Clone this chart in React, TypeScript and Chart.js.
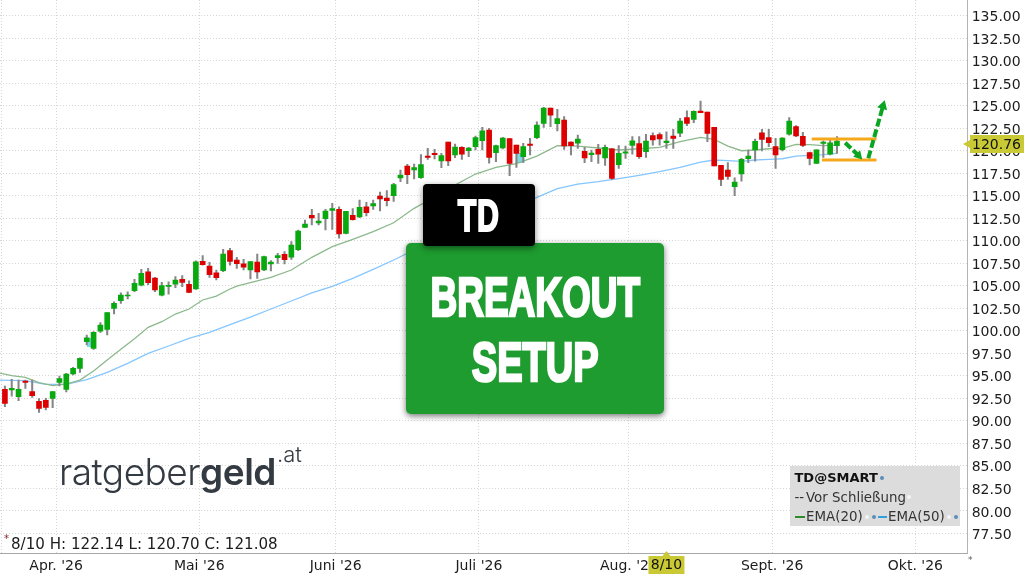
import React, { useEffect, useRef } from 'react';
import { Chart, registerables } from 'chart.js';

Chart.register(...registerables);

// candles
const opens = [93.49, 93.42, 92.68, 94.42, 93.24, 92.16, 92.27, 92.50, 94.27, 93.49, 95.20, 95.83, 98.79, 98.05, 99.97, 100.16, 102.49, 103.34, 103.86, 104.45, 105.08, 106.56, 105.86, 103.97, 104.93, 105.19, 105.71, 105.16, 104.64, 107.71, 107.19, 106.45, 106.67, 108.90, 107.86, 107.45, 106.75, 107.64, 106.75, 107.42, 108.12, 108.49, 108.19, 109.01, 111.49, 112.82, 111.97, 112.45, 113.38, 113.49, 110.82, 112.82, 112.64, 113.78, 113.86, 114.97, 114.75, 115.01, 116.97, 118.30, 117.86, 117.01, 119.41, 119.71, 118.86, 120.97, 119.52, 120.37, 120.00, 120.45, 121.11, 122.30, 119.78, 120.30, 121.34, 120.63, 119.34, 120.74, 121.45, 123.04, 124.74, 123.00, 123.41, 120.97, 120.85, 119.93, 119.56, 120.15, 119.19, 120.22, 118.45, 119.74, 120.59, 120.78, 119.89, 121.67, 121.78, 120.89, 121.63, 121.96, 123.67, 123.48, 124.41, 124.30, 122.59, 118.37, 117.85, 116.00, 117.41, 119.11, 120.08, 122.00, 121.45, 120.45, 120.11, 121.85, 122.67, 121.59, 119.78, 118.60, 120.82, 119.63, 120.56];
const highs = [93.87, 94.61, 94.53, 94.53, 94.53, 92.46, 92.50, 93.24, 94.98, 95.27, 95.94, 97.01, 99.53, 99.90, 100.90, 102.01, 103.23, 104.23, 104.34, 105.71, 106.82, 106.93, 105.93, 105.38, 105.45, 106.01, 106.12, 105.56, 107.78, 108.34, 107.60, 106.75, 109.04, 109.15, 108.15, 107.93, 107.68, 108.53, 108.31, 107.79, 108.60, 108.79, 109.90, 111.19, 112.30, 113.49, 113.04, 113.49, 114.15, 113.78, 113.27, 113.56, 114.52, 114.27, 114.52, 115.41, 115.56, 116.38, 117.86, 118.49, 118.52, 119.56, 120.26, 120.15, 119.71, 120.97, 120.74, 120.45, 120.37, 121.63, 122.59, 122.48, 120.63, 121.48, 121.34, 120.63, 120.82, 121.37, 123.22, 124.81, 124.74, 124.59, 123.78, 121.00, 121.74, 120.37, 120.08, 120.71, 120.63, 120.26, 120.56, 120.52, 121.56, 121.56, 121.82, 122.00, 122.00, 122.11, 122.37, 123.59, 124.44, 124.44, 125.52, 124.30, 122.59, 118.37, 118.67, 117.00, 119.15, 120.08, 121.30, 122.37, 122.37, 121.37, 121.45, 123.67, 122.78, 122.04, 119.85, 120.11, 121.11, 121.19, 121.56];
const lows = [91.57, 92.75, 92.24, 93.61, 92.61, 90.94, 91.20, 91.46, 93.87, 93.20, 95.09, 95.38, 98.42, 97.94, 99.83, 99.53, 101.86, 103.05, 103.53, 104.34, 104.97, 105.12, 104.34, 103.86, 104.08, 104.79, 104.90, 104.23, 104.60, 107.30, 105.93, 105.64, 106.56, 107.30, 106.93, 106.75, 105.75, 105.83, 106.68, 106.64, 107.49, 107.42, 107.93, 108.90, 111.49, 111.75, 111.75, 111.19, 111.27, 110.30, 110.75, 112.30, 112.56, 112.75, 113.49, 113.30, 113.86, 114.38, 116.56, 116.34, 116.86, 116.93, 119.04, 119.08, 118.12, 118.34, 119.23, 119.04, 119.34, 120.08, 120.08, 118.63, 118.78, 120.19, 117.23, 118.15, 118.71, 119.52, 121.33, 122.59, 122.67, 122.19, 120.15, 119.52, 120.26, 118.67, 118.78, 118.60, 118.37, 116.82, 118.04, 119.15, 119.63, 119.15, 119.26, 120.63, 120.63, 120.26, 120.26, 121.56, 122.78, 123.11, 124.22, 121.00, 118.30, 116.11, 116.82, 115.00, 116.63, 118.67, 118.85, 119.97, 120.45, 118.04, 119.97, 121.74, 121.56, 120.45, 118.41, 118.60, 119.26, 119.52, 119.70];
const closes = [91.94, 93.61, 93.49, 94.27, 92.79, 91.38, 91.50, 93.24, 94.68, 95.20, 95.83, 96.94, 99.23, 99.83, 100.64, 102.01, 103.05, 103.97, 103.97, 105.27, 106.38, 105.34, 104.53, 105.01, 105.05, 105.64, 105.38, 104.27, 107.67, 107.34, 106.23, 105.90, 108.53, 107.71, 107.45, 107.08, 107.68, 106.53, 108.23, 107.64, 108.34, 107.90, 109.53, 111.08, 111.86, 112.53, 112.19, 113.30, 113.56, 110.75, 113.27, 112.34, 113.71, 113.12, 114.12, 114.64, 114.45, 116.23, 117.30, 117.34, 118.12, 118.45, 119.26, 119.56, 119.45, 118.86, 120.41, 119.63, 120.30, 121.45, 122.22, 119.26, 120.56, 121.41, 118.60, 119.71, 120.45, 120.59, 122.85, 124.74, 123.96, 123.56, 120.52, 120.56, 121.30, 119.19, 119.74, 119.63, 120.37, 116.93, 119.71, 119.89, 121.11, 119.34, 121.08, 121.19, 121.30, 121.08, 121.37, 123.30, 123.04, 124.37, 124.22, 121.93, 118.30, 116.82, 117.15, 116.52, 119.04, 119.41, 121.04, 121.26, 120.89, 119.52, 121.41, 123.30, 121.63, 120.59, 119.15, 120.11, 120.96, 120.89, 121.08];

const ema20Bars = [-1, 1, 3, 5, 7, 9, 11, 13, 15, 17, 19, 21, 23, 25, 27, 29, 31, 33, 34, 36, 39, 42, 45, 48, 51, 54, 57, 60, 63, 66, 69, 72, 75, 78, 81, 84, 87, 90, 93, 96, 99, 102, 104, 106, 108, 110, 112, 114, 116, 118, 120, 122];
const ema20 = [95.35, 95.01, 94.83, 94.24, 93.90, 94.09, 94.53, 95.53, 96.75, 97.94, 99.12, 100.38, 101.01, 101.86, 102.42, 103.42, 103.86, 104.64, 104.97, 105.34, 105.94, 106.75, 108.16, 109.34, 110.16, 111.01, 112.00, 113.60, 114.86, 116.19, 117.41, 118.15, 118.56, 119.41, 120.56, 120.52, 120.30, 120.08, 120.22, 120.37, 121.00, 121.48, 121.26, 120.52, 120.00, 120.08, 120.22, 120.26, 120.71, 120.67, 120.56, 120.63];

const ema50Bars = [-1, 3, 6, 9, 12, 15, 18, 21, 24, 27, 30, 33, 34, 36, 39, 42, 45, 48, 51, 54, 57, 60, 63, 66, 69, 72, 75, 78, 81, 84, 87, 90, 93, 96, 99, 102, 104, 106, 108, 110, 112, 114, 116, 118, 120, 122];
const ema50 = [94.53, 94.46, 94.05, 94.05, 94.57, 95.38, 96.38, 97.49, 98.31, 99.16, 99.83, 100.68, 100.97, 101.53, 102.42, 103.31, 104.20, 104.94, 105.83, 106.82, 107.86, 108.97, 110.08, 111.19, 112.19, 113.19, 113.97, 114.82, 115.78, 116.30, 116.56, 116.89, 117.26, 117.67, 118.15, 118.74, 118.97, 118.89, 118.82, 118.97, 119.04, 119.11, 119.41, 119.48, 119.56, 119.70];

const yTicks = [77.5, 80, 82.5, 85, 87.5, 90, 92.5, 95, 97.5, 100, 102.5, 105, 107.5, 110, 112.5, 115, 117.5, 120, 122.5, 125, 127.5, 130, 132.5, 135];
const monthLabels = ["Apr. '26", "Mai '26", "Juni '26", "Juli '26", "Aug. '26", "Sept. '26", "Okt. '26"];
const monthBars = [7.5, 28.5, 48.5, 69.5, 91.5, 112.5, 133.5];

const resistance = 121.3;
const support = 118.97;
const resistanceBars = [118.3, 127.8];
const supportBars = [119.8, 127.8];
const arrowDownBars = [123.2, 125.16];
const arrowDownVals = [120.89, 119.47];
const arrowUpBars = [126.6, 128.75];
const arrowUpVals = [119.16, 124.97];

const lastPrice = 120.76;
const crosshairBar = 97;
const crosshairLabel = '8/10';

const gapBars = [12.6, 75.6];
const gapTops = [99.16, 119.71];
const gapBottoms = [98.23, 118.67];

const GREEN = '#08a90f';
const RED = '#dc0000';
const TAG = '#c9c935';
const FONT = '"DejaVu Sans", sans-serif';

// price tag on the right axis and date tag on the bottom axis
const tagsPlugin = {
  id: 'tags',
  afterDraw(chart: any) {
    const { ctx, scales } = chart;
    const y = scales.y.getPixelForValue(lastPrice);
    const x = scales.x.getPixelForValue(crosshairBar);
    ctx.save();
    ctx.fillStyle = TAG;
    ctx.beginPath();
    ctx.moveTo(963, y);
    ctx.lineTo(970, y - 4);
    ctx.lineTo(970, y - 9);
    ctx.lineTo(1024, y - 9);
    ctx.lineTo(1024, y + 9);
    ctx.lineTo(970, y + 9);
    ctx.lineTo(970, y + 4);
    ctx.closePath();
    ctx.fill();
    ctx.beginPath();
    ctx.moveTo(x, 551);
    ctx.lineTo(x + 4, 556);
    ctx.lineTo(x + 18, 556);
    ctx.lineTo(x + 18, 574);
    ctx.lineTo(x - 18, 574);
    ctx.lineTo(x - 18, 556);
    ctx.lineTo(x - 4, 556);
    ctx.closePath();
    ctx.fill();
    ctx.fillStyle = '#111';
    ctx.font = '14px ' + FONT;
    ctx.textBaseline = 'middle';
    ctx.textAlign = 'left';
    ctx.fillText(lastPrice.toFixed(2), 972, y + 1);
    ctx.textAlign = 'center';
    ctx.fillText(crosshairLabel, x, 565);
    ctx.restore();
  },
};

// chart area has to reach the canvas edges, no room for half tick labels
const noPadding = (scale: any) => {
  scale.paddingLeft = 0;
  scale.paddingRight = 0;
  scale.paddingTop = 0;
  scale.paddingBottom = 0;
};

const CandleChart: React.FC = () => {
  const canvasRef = useRef<HTMLCanvasElement>(null);

  useEffect(() => {
    if (!canvasRef.current) return;
    const arrow = {
      type: 'line',
      borderColor: '#0aa522',
      borderWidth: 4,
      borderDash: [8, 3],
      pointBackgroundColor: '#0aa522',
      pointBorderWidth: 0,
      pointStyle: 'triangle',
      tension: 0,
      order: 0,
    };
    const chart = new Chart(canvasRef.current, {
      type: 'bar',
      data: {
        datasets: [
          {
            type: 'bar',
            data: gapBars.map((b, i) => ({ x: b, y: [gapBottoms[i], gapTops[i]] })),
            backgroundColor: '#7fd8e8',
            barThickness: 7,
            grouped: false,
            order: 6,
          },
          {
            type: 'line',
            data: ema50Bars.map((b, i) => ({ x: b, y: ema50[i] })),
            borderColor: '#85c6ff',
            borderWidth: 1.3,
            pointRadius: 0,
            order: 5,
          },
          {
            type: 'line',
            data: ema20Bars.map((b, i) => ({ x: b, y: ema20[i] })),
            borderColor: '#8cb98c',
            borderWidth: 1.3,
            pointRadius: 0,
            order: 4,
          },
          {
            type: 'bar',
            data: highs.map((h, i) => ({ x: i, y: [lows[i], h] })),
            backgroundColor: '#868686',
            barThickness: 1.4,
            grouped: false,
            order: 3,
          },
          {
            type: 'bar',
            data: closes.map((c, i) => ({ x: i, y: [opens[i], c] })),
            backgroundColor: closes.map((c, i) => (c >= opens[i] ? GREEN : RED)),
            barThickness: 5,
            grouped: false,
            order: 2,
          },
          {
            type: 'line',
            data: resistanceBars.map((b) => ({ x: b, y: resistance })),
            borderColor: '#f6a81c',
            borderWidth: 3,
            pointRadius: 0,
            order: 1,
          },
          {
            type: 'line',
            data: supportBars.map((b) => ({ x: b, y: support })),
            borderColor: '#f6a81c',
            borderWidth: 3,
            pointRadius: 0,
            order: 1,
          },
          {
            ...arrow,
            data: arrowDownBars.map((b, i) => ({ x: b, y: arrowDownVals[i] })),
            pointRadius: [0, 5.5],
            pointRotation: [0, 137],
          },
          {
            ...arrow,
            data: arrowUpBars.map((b, i) => ({ x: b, y: arrowUpVals[i] })),
            pointRadius: [0, 6],
            pointRotation: [0, 17],
          },
        ] as any,
      },
      options: {
        responsive: false,
        animation: false,
        devicePixelRatio: 1,
        layout: { padding: 0, autoPadding: false },
        plugins: { legend: { display: false }, tooltip: { enabled: false } },
        scales: {
          x: {
            type: 'linear',
            offset: false,
            min: -0.72,
            max: 141.17,
            grid: { offset: false, color: '#d6d6d6', tickLength: 0 },
            border: { color: '#a8a8a8', dash: [1, 2] },
            afterBuildTicks: (scale: any) => {
              scale.ticks = [-0.5, ...monthBars].map((value) => ({ value }));
            },
            afterFit: (scale: any) => {
              scale.height = 22;
              noPadding(scale);
            },
            ticks: {
              autoSkip: false,
              maxRotation: 0,
              padding: 5,
              color: '#1c1c1c',
              font: { family: FONT, size: 14 },
              callback: (value: any) => {
                const at = monthBars.indexOf(Number(value));
                return at >= 0 ? monthLabels[at] : '';
              },
            },
          },
          y: {
            type: 'linear',
            position: 'right',
            min: 75.32,
            max: 136.74,
            grid: { color: '#d6d6d6', tickLength: 0 },
            border: { color: '#b4b4b4', dash: [1, 2] },
            afterBuildTicks: (scale: any) => {
              scale.ticks = yTicks.map((value) => ({ value }));
            },
            afterFit: (scale: any) => {
              scale.width = 1024 - 967.7;
              noPadding(scale);
            },
            ticks: {
              padding: 4,
              labelOffset: 2,
              color: '#1c1c1c',
              font: { family: FONT, size: 14 },
              callback: (value: any) => Number(value).toFixed(2),
            },
          },
        },
      } as any,
      plugins: [tagsPlugin],
    });
    return () => {
      chart.destroy();
    };
  }, []);

  return <canvas ref={canvasRef} width={1024} height={575} style={{ display: 'block' }} />;
};

const at = (left: number, top: number): React.CSSProperties => ({
  position: 'absolute',
  left,
  top,
  whiteSpace: 'nowrap',
});

const heavy: React.CSSProperties = {
  position: 'absolute',
  left: -100,
  right: -100,
  textAlign: 'center',
  whiteSpace: 'nowrap',
  color: '#fff',
  fontFamily: '"Liberation Sans", sans-serif',
  fontWeight: 700,
  WebkitTextStroke: '2.6px #fff',
  lineHeight: 1,
};

const dot = (left: number, top: number, color: string): React.CSSProperties => ({
  position: 'absolute',
  left,
  top,
  width: 4,
  height: 4,
  borderRadius: 2,
  background: color,
});

const dash = (left: number, top: number, width: number, color: string): React.CSSProperties => ({
  position: 'absolute',
  left,
  top,
  width,
  height: 1.5,
  background: color,
});

export default function App() {
  return (
    <div style={{ position: 'absolute', left: 0, top: 0, width: 1024, height: 575, overflow: 'hidden', background: '#fff', fontFamily: FONT }}>
      <CandleChart />

      {/* boxes */}
      <div style={{ position: 'absolute', left: 405.5, top: 243, width: 258.5, height: 171, background: '#1e9c2f', borderRadius: 5, boxShadow: '0 2px 6px rgba(0,0,0,.55)' }}>
        <div style={{ ...heavy, top: 25.5, fontSize: 56, transform: 'scaleX(0.66)' }}>BREAKOUT</div>
        <div style={{ ...heavy, top: 91, fontSize: 56, transform: 'scaleX(0.68)' }}>SETUP</div>
      </div>
      <div style={{ position: 'absolute', left: 423, top: 184, width: 111.5, height: 62, background: '#000', borderRadius: 4, boxShadow: '0 2px 6px rgba(0,0,0,.5)' }}>
        <div style={{ ...heavy, top: 10, fontSize: 44, transform: 'scaleX(0.69)', WebkitTextStroke: '2px #fff', letterSpacing: 1 }}>TD</div>
      </div>

      {/* logo */}
      <div style={{ ...at(59, 448), fontFamily: 'Inter, sans-serif', fontSize: 37, color: '#343a42', lineHeight: '48px', letterSpacing: -0.5 }}>
        <span style={{ fontWeight: 300 }}>ratgeber</span>
        <span style={{ fontWeight: 600 }}>geld</span>
      </div>
      <div style={{ ...at(277, 441), fontFamily: 'Inter, sans-serif', fontSize: 22, fontWeight: 300, color: '#343a42', lineHeight: '26px' }}>.at</div>

      {/* info line */}
      <div style={{ ...at(9, 535), background: '#fff', fontSize: 15.1, lineHeight: '18px', color: '#1c1c1c', padding: '0 2px', height: 17 }}>8/10 H: 122.14 L: 120.70 C: 121.08</div>
      <div style={{ ...at(4, 534), fontSize: 10, lineHeight: '10px', color: '#8a2020' }}>*</div>
      <div style={{ ...at(968, 555), fontSize: 9, lineHeight: '10px', color: '#555' }}>*</div>

      {/* legend */}
      <div style={{ position: 'absolute', left: 789.5, top: 466, width: 170.5, height: 60, background: '#dcdcdc', fontSize: 13.4, lineHeight: '20px', color: '#333' }}>
        <div style={{ ...at(5, 2), fontWeight: 700, fontSize: 13, color: '#111' }}>TD@SMART</div>
        <div style={dot(90, 10, '#5b8db8')} />
        <div style={{ ...at(5, 21.5) }}>--</div>
        <div style={{ ...at(16.5, 21.5) }}>Vor Schließung</div>
        <div style={dot(117, 29, '#f4f4f4')} />
        <div style={dash(5.5, 50, 10, '#2e8b2e')} />
        <div style={{ ...at(16.5, 40.5) }}>EMA(20)</div>
        <div style={dot(75, 49, '#f4f4f4')} />
        <div style={dot(82.5, 49, '#5b8db8')} />
        <div style={dash(88, 50, 9, '#2f9fe0')} />
        <div style={{ ...at(98.5, 40.5) }}>EMA(50)</div>
        <div style={dot(157.5, 49, '#f4f4f4')} />
        <div style={dot(164.5, 49, '#5b8db8')} />
      </div>
    </div>
  );
}
